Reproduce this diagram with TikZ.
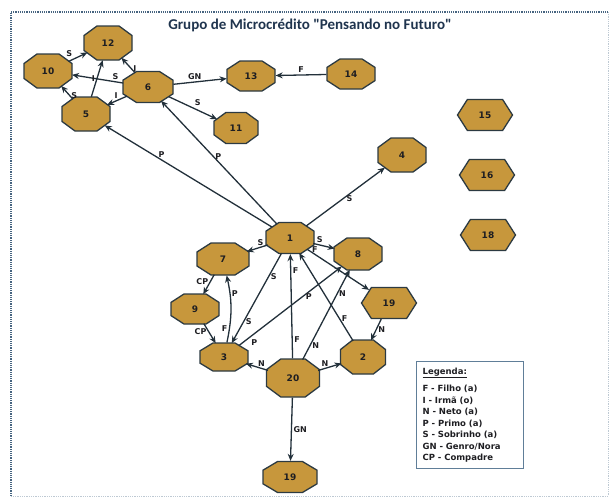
\documentclass[tikz,border=0pt]{standalone}
\usepackage{fontspec}
\usetikzlibrary{shapes.symbols,arrows.meta}
\newfontfamily\titlefont{Carlito}
\newfontfamily\lblfont{DejaVu Sans}
\definecolor{gold}{RGB}{199,151,60}
\definecolor{rim}{RGB}{44,58,66}
\definecolor{wire}{RGB}{34,48,58}
\definecolor{ink}{RGB}{30,30,34}
\definecolor{navy}{RGB}{31,52,78}
\definecolor{framec}{RGB}{70,100,128}
\definecolor{legc}{RGB}{96,126,152}

% Octagon node: elliptic border for connectors, octagonal outline around it
\makeatletter
\newdimen\octA \newdimen\octB \newdimen\octCX \newdimen\octCY
\newdimen\octOX \newdimen\octOY
\pgfdeclareshape{octo}{
  \savedanchor\centerpoint{%
    \pgf@x=.5\wd\pgfnodeparttextbox
    \pgf@y=.5\ht\pgfnodeparttextbox
    \advance\pgf@y by-.5\dp\pgfnodeparttextbox
  }
  \savedanchor\radius{%
    \pgf@y=.5\ht\pgfnodeparttextbox
    \advance\pgf@y by.5\dp\pgfnodeparttextbox
    \pgfmathsetlength\pgf@yb{\pgfkeysvalueof{/pgf/inner ysep}}%
    \advance\pgf@y by\pgf@yb
    \pgf@x=.5\wd\pgfnodeparttextbox
    \pgfmathsetlength\pgf@xb{\pgfkeysvalueof{/pgf/inner xsep}}%
    \advance\pgf@x by\pgf@xb
    \pgf@x=1.4142136\pgf@x
    \pgf@y=1.4142136\pgf@y
    \pgfmathsetlength\pgf@yc{\pgfkeysvalueof{/pgf/minimum height}}%
    \ifdim\pgf@y<.5\pgf@yc \pgf@y=.5\pgf@yc \fi
    \pgfmathsetlength\pgf@xc{\pgfkeysvalueof{/pgf/minimum width}}%
    \ifdim\pgf@x<.5\pgf@xc \pgf@x=.5\pgf@xc \fi
    \pgfmathsetlength{\pgf@xb}{\pgfkeysvalueof{/pgf/outer xsep}}%
    \pgfmathsetlength{\pgf@yb}{\pgfkeysvalueof{/pgf/outer ysep}}%
    \advance\pgf@x by\pgf@xb
    \advance\pgf@y by\pgf@yb
  }
  \anchor{center}{\centerpoint}
  \anchor{text}{\pgfpointorigin}
  \anchorborder{%
    \edef\pgf@marshal{%
      \noexpand\pgfpointborderellipse
      {\noexpand\pgfqpoint{\the\pgf@x}{\the\pgf@y}}%
      {\noexpand\radius}%
    }%
    \pgf@process{\pgf@marshal}%
    \pgf@xa=\pgf@x
    \pgf@ya=\pgf@y
    \centerpoint
    \advance\pgf@x by\pgf@xa
    \advance\pgf@y by\pgf@ya
  }
  \backgroundpath{%
    \radius
    \octA=\pgf@x \octB=\pgf@y
    \pgfmathsetlength\pgf@xb{\pgfkeysvalueof{/pgf/outer xsep}}%
    \pgfmathsetlength\pgf@yb{\pgfkeysvalueof{/pgf/outer ysep}}%
    \advance\octA by-\pgf@xb
    \advance\octB by-\pgf@yb
    \octCX=0.54\octA
    \octCY=0.56\octB
    \centerpoint
    \octOX=\pgf@x \octOY=\pgf@y
    \pgfpathmoveto{\pgfqpoint{\dimexpr\octOX+\octA-\octCX\relax}{\dimexpr\octOY+\octB\relax}}%
    \pgfpathlineto{\pgfqpoint{\dimexpr\octOX+\octA\relax}{\dimexpr\octOY+\octB-\octCY\relax}}%
    \pgfpathlineto{\pgfqpoint{\dimexpr\octOX+\octA\relax}{\dimexpr\octOY-\octB+\octCY\relax}}%
    \pgfpathlineto{\pgfqpoint{\dimexpr\octOX+\octA-\octCX\relax}{\dimexpr\octOY-\octB\relax}}%
    \pgfpathlineto{\pgfqpoint{\dimexpr\octOX-\octA+\octCX\relax}{\dimexpr\octOY-\octB\relax}}%
    \pgfpathlineto{\pgfqpoint{\dimexpr\octOX-\octA\relax}{\dimexpr\octOY-\octB+\octCY\relax}}%
    \pgfpathlineto{\pgfqpoint{\dimexpr\octOX-\octA\relax}{\dimexpr\octOY+\octB-\octCY\relax}}%
    \pgfpathlineto{\pgfqpoint{\dimexpr\octOX-\octA+\octCX\relax}{\dimexpr\octOY+\octB\relax}}%
    \pgfpathclose
  }
}
\makeatother

\begin{document}
\begin{tikzpicture}[x=1pt,y=-1pt,
  oct/.style={octo, draw=rim, fill=gold, line width=1.3pt, minimum width=48pt, minimum height=34pt,
    inner sep=0pt, font=\lblfont\bfseries\fontsize{9}{10}\selectfont, text=ink},
  hexa/.style={signal, signal to=east and west, signal pointer angle=115,
    draw=rim, fill=gold, line width=1.3pt, minimum width=55pt, minimum height=31pt,
    inner sep=0pt, font=\lblfont\bfseries\fontsize{9}{10}\selectfont, text=ink},
  conn/.style={draw=wire, line width=1.3pt, -{Stealth[length=7pt,width=6pt]}},
  lbl/.style={font=\lblfont\bfseries\fontsize{8}{9}\selectfont, text=ink, inner sep=1.5pt}]
\useasboundingbox (0,0) rectangle (611,498);

% frame
\draw[framec, line width=1.2pt, densely dotted] (11,496) -- (11,12) -- (608,12);
\draw[framec!35, line width=0.8pt, densely dotted] (608,12) -- (608,496) -- (11,496);

% title
\node (title) at (310,25) {\titlefont\bfseries\fontsize{15}{17}\selectfont\color{navy}Grupo de Microcrédito "Pensando no Futuro"};

% members
\node[oct] (n12) at (108,43) {12};
\node[oct] (n10) at (48,71) {10};
\node[oct, minimum width=50pt, minimum height=31pt] (n6) at (148,87) {6};
\node[oct] (n5) at (86,114) {5};
\node[oct, minimum height=30pt] (n13) at (251,76) {13};
\node[oct, minimum height=30pt] (n14) at (351,74) {14};
\node[oct, minimum width=44pt, minimum height=31pt] (n11) at (236,128) {11};
\node[oct] (n4) at (402,155) {4};
\node[hexa] (n15) at (485,115) {15};
\node[hexa] (n16) at (487,175) {16};
\node[hexa] (n18) at (488,235) {18};
\node[oct, minimum height=31pt] (n1) at (290,238) {1};
\node[oct, minimum width=52pt, minimum height=32pt] (n7) at (223,259) {7};
\node[oct, minimum height=32pt] (n8) at (358,254) {8};
\node[oct, minimum height=30pt] (n9) at (195,309) {9};
\node[hexa] (n19a) at (389,303) {19};
\node[oct, minimum height=28pt] (n3) at (224,357) {3};
\node[oct, minimum width=45pt] (n2) at (363,357) {2};
\node[oct, minimum width=53pt, minimum height=38pt] (n20) at (293,378) {20};
\node[oct, minimum width=54pt, minimum height=31pt] (n19b) at (290,477) {19};

% relations
\draw[conn] (n6) -- node[lbl, pos=.3, right] {I} (n12);
\draw[conn] (n6) -- node[lbl, pos=.15, above] {S} (n10);
\draw[conn] (n6) -- node[lbl, pos=.55, above] {I} (n5);
\draw[conn] (n6) -- node[lbl, pos=.4, above] {GN} (n13);
\draw[conn] (n6) -- node[lbl, pos=.5, above right] {S} (n11);
\draw[conn] (n14) -- node[lbl, pos=.5, above] {F} (n13);
\draw[conn] (n10) -- node[lbl, pos=.3, above left] {S} (n12);
\draw[conn] (n5) -- node[lbl, pos=.5, left] {I} (n12);
\draw[conn] (n5) -- node[lbl, pos=.3, right] {S} (n10);
\draw[conn] (n1) -- node[lbl, pos=.66, above] {P} (n5);
\draw[conn] (n1) -- node[lbl, pos=.55, right] {P} (n6);
\draw[conn] (n1) -- node[lbl, pos=.55, below] {S} (n4);
\draw[conn] (n1) -- node[lbl, pos=.35, above] {S} (n7);
\draw[conn] (n1) -- node[lbl, pos=.3, above] {S} (n8);
\draw[conn] (n1) -- node[lbl, pos=.12, above] {F} (n19a);
\draw[conn] (n2) -- node[lbl, pos=.25, right] {F} (n1);
\draw[conn] (n20) -- node[lbl, pos=.18, right] {F} node[lbl, pos=.84, right] {F} (n1);
\draw[conn] (n20) -- node[lbl, pos=.16, right] {N} node[lbl, pos=.73, right] {N} (n8);
\draw[conn] (n3) -- node[lbl, pos=.1, below right] {P} node[lbl, pos=.68, below] {P} (n8);
\draw[conn] (n1) -- node[lbl, pos=.26, right] {S} node[lbl, pos=.76, right] {S} (n3);
\draw[conn] (n3) to[bend right=12] node[lbl, pos=.2, left] {F} node[lbl, pos=.75, right] {P} (n7);
\draw[conn] (n7) -- node[lbl, pos=.35, left] {CP} (n9);
\draw[conn] (n9) -- node[lbl, pos=.4, left] {CP} (n3);
\draw[conn] (n19a) -- node[lbl, pos=.5, right] {N} (n2);
\draw[conn] (n20) -- node[lbl, pos=.3, above] {N} (n3);
\draw[conn] (n20) -- node[lbl, pos=.3, above] {N} (n2);
\draw[conn] (n20) -- node[lbl, pos=.5, right] {GN} (n19b);

% key
\node[draw=legc, line width=1.2pt, anchor=north west, minimum width=107pt, minimum height=105pt,
      inner sep=6pt, align=left, text width=95pt,
      font=\lblfont\bfseries\fontsize{8.5}{11.5}\selectfont, text=ink] (key) at (416,361)
  {\underline{Legenda:}\\[6pt]
   F - Filho (a)\\
   I - Irmã (o)\\
   N - Neto (a)\\
   P - Primo (a)\\
   S - Sobrinho (a)\\
   GN - Genro/Nora\\
   CP - Compadre};
\end{tikzpicture}
\end{document}
